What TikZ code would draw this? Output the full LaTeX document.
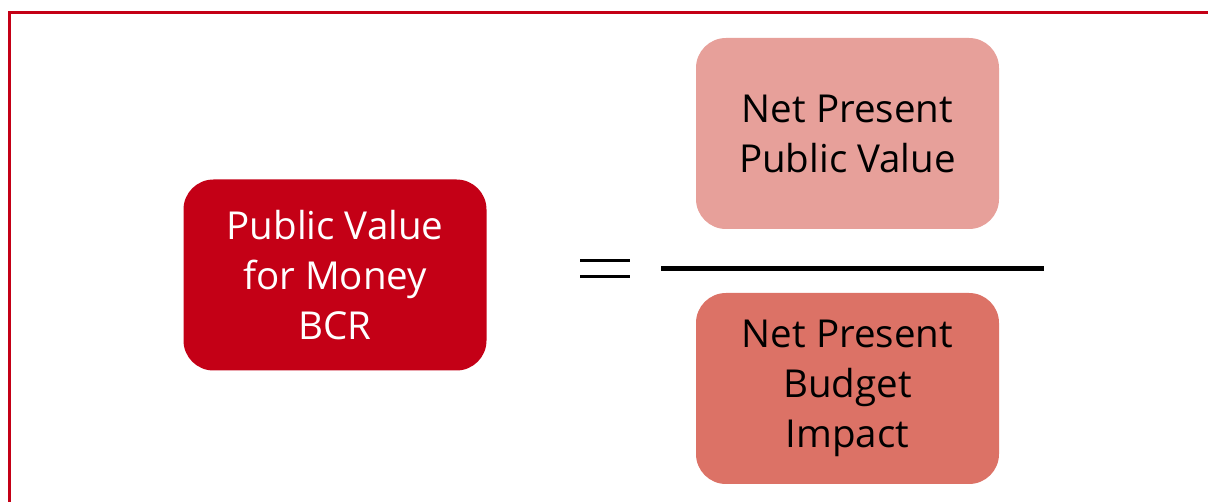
\documentclass[tikz,border=0pt]{standalone}
\usepackage{fontspec}
\setmainfont{Open Sans}
\usepackage{tikz}

\definecolor{bcrred}{HTML}{C40016}
\definecolor{pvpink}{HTML}{E7A09A}
\definecolor{bisalmon}{HTML}{DC7266}

\begin{document}
\begin{tikzpicture}[x=1pt, y=-1pt,
  box/.style={rounded corners=30pt, minimum width=303pt, minimum height=191pt,
    align=center, font=\fontsize{38.5}{50}\selectfont, inner sep=0pt}]
  \useasboundingbox (0,0) rectangle (1208,502);
  \draw[bcrred, line width=3.5pt] (9.5,502) -- (9.5,12.5) -- (1208,12.5);

  \node[box, fill=bcrred, text=white] (bcr) at (335,275) {Public Value\\for Money\\BCR};
  \node[box, fill=pvpink] (npv) at (847.5,133.5) {Net Present\\Public Value};
  \node[box, fill=bisalmon] (npb) at (847.5,388.5) {Net Present\\Budget\\Impact};

  \draw[line width=3pt] (580,260.5) -- (630,260.5);
  \draw[line width=3pt] (580,276.5) -- (630,276.5);
  \draw[line width=5pt] (661,268.5) -- (1044,268.5);
\end{tikzpicture}
\end{document}
